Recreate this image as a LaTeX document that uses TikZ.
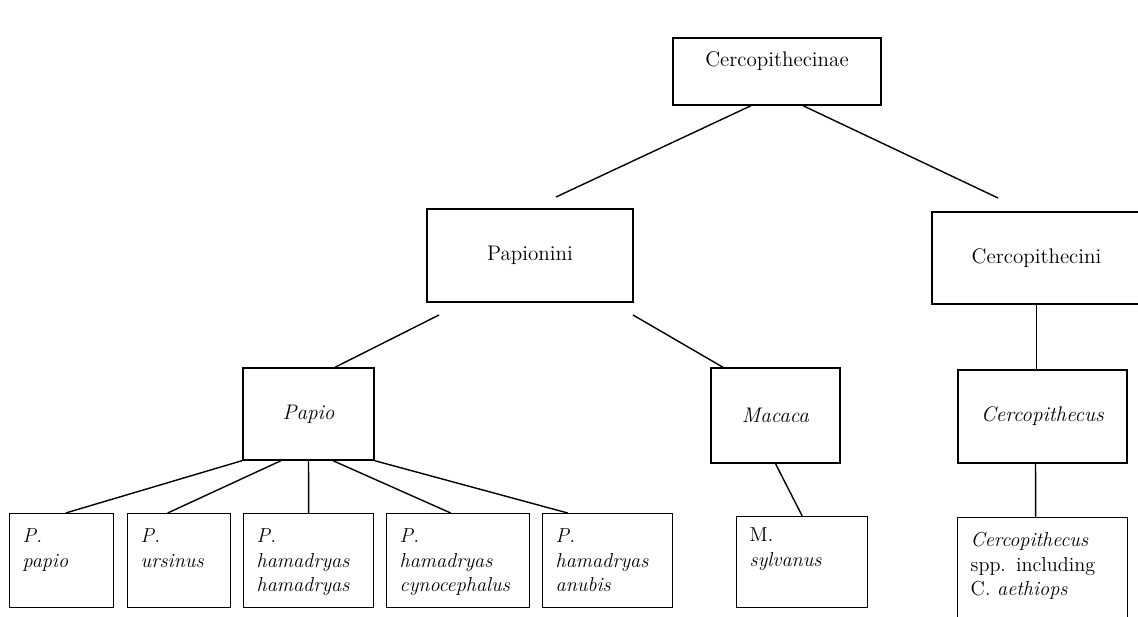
\documentclass[tikz,border=0pt]{standalone}
\usepackage{fontspec}
\usepackage{tikz}
\usetikzlibrary{positioning,calc}

\begin{document}
\begin{tikzpicture}[x=0.02cm,y=-0.02cm,
  taxon/.style={draw,line width=0.8pt,inner sep=0pt,align=center,font=\fontsize{12}{14}\selectfont},
  species/.style={draw,line width=0.8pt,anchor=north west,align=left,text width=#1,inner xsep=0.26cm,inner ysep=0pt,text height=0.58cm,text depth=1.3cm,font=\fontsize{11.5}{14}\selectfont},
  link/.style={line width=0.8pt}]
\clip (0,0) rectangle (1138,617);

\node[taxon,minimum width=4.16cm,minimum height=1.34cm,text height=0.3cm,text depth=0.48cm] (subfam) at (777,71.5) {Cercopithecinae};
\node[taxon,minimum width=4.12cm,minimum height=1.86cm] (papionini) at (530,255.5) {Papionini};
\node[taxon,minimum width=4.18cm,minimum height=1.84cm] (cercini) at (1036.5,258) {Cercopithecini};
\node[taxon,minimum width=2.62cm,minimum height=1.84cm] (papio) at (308.5,414) {\textit{Papio}};
\node[taxon,minimum width=2.58cm,minimum height=1.90cm] (macaca) at (775.5,415.5) {\textit{Macaca}};
\node[taxon,minimum width=3.38cm,minimum height=1.86cm] (cercus) at (1042.5,416.5) {\textit{Cercopithecus}};

\node[species=1.56cm] (ppapio) at (9,513) {\textit{P.}\\ \textit{papio}};
\node[species=1.54cm] (pursinus) at (127,513) {\textit{P.}\\ \textit{ursinus}};
\node[species=2.08cm] (phamadryas) at (243,513) {\textit{P.}\\ \textit{hamadryas}\\ \textit{hamadryas}};
\node[species=2.34cm] (pcyno) at (386,513) {\textit{P.}\\ \textit{hamadryas}\\ \textit{cynocephalus}};
\node[species=2.08cm] (panubis) at (542,513) {\textit{P.}\\ \textit{hamadryas}\\ \textit{anubis}};
\node[species=2.10cm,text height=0.5cm,text depth=1.32cm] (msylvanus) at (736,516) {M.\\ \textit{sylvanus}};
\node[species=2.88cm,text depth=2cm] (cspp) at (957,517) {\textit{Cercopithecus}\\ spp. including\\ C. \textit{aethiops}};

\coordinate (j1) at (556,197);
\coordinate (j2) at (998,198);
\coordinate (k1) at (439,315);
\coordinate (k2) at (633,315);

\draw[link] ([xshift=-0.52cm]subfam.south) -- (j1);
\draw[link] ([xshift=0.52cm]subfam.south) -- (j2);
\draw[link] (k1) -- ([xshift=0.53cm]papio.north);
\draw[link] (k2) -- ([xshift=-1.05cm]macaca.north);
\draw[link] (cercini.south) -- (cercini.south |- cercus.north);

\draw[link] ([xshift=-1.33cm]papio.south) -- ([xshift=0.08cm]ppapio.north);
\draw[link] ([xshift=-0.55cm]papio.south) -- ([xshift=-0.23cm]pursinus.north);
\draw[link] (papio.south) -- (phamadryas.north);
\draw[link] ([xshift=0.49cm]papio.south) -- ([xshift=-0.15cm]pcyno.north);
\draw[link] (papio.south east) -- ([xshift=-0.8cm]panubis.north);

\draw[link] (macaca.south) -- (msylvanus.north);
\draw[link] ([xshift=-0.14cm]cercus.south) -- ([xshift=-0.14cm]cspp.north);
\end{tikzpicture}
\end{document}
